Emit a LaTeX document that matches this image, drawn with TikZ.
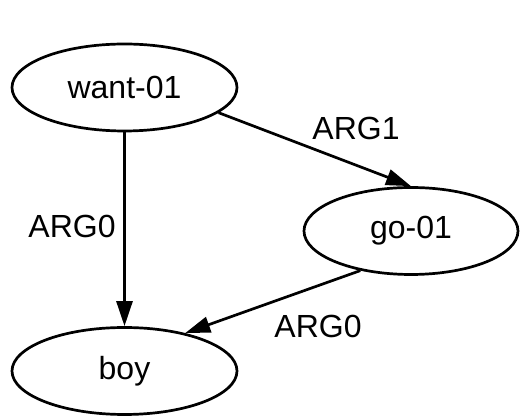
\documentclass[tikz,border=0pt]{standalone}
\usepackage{fontspec}
\setmainfont{Liberation Sans}
\usetikzlibrary{shapes.geometric,arrows.meta}
\tikzset{amr/.style={x=1pt,y=1pt,line width=2.7pt,font=\fontsize{32}{38}\selectfont},
  concept/.style={draw,ellipse,inner sep=0pt,minimum width=225pt,minimum height=87pt},
  role/.style={-{Triangle[length=25pt,width=16pt]},line width=2.7pt}}

\begin{document}
\begin{tikzpicture}[amr]
    \useasboundingbox (0,0) rectangle (520,417);
    \node[concept] (want) at (124.5,329.5) {want-01};
    \node[concept,minimum width=214pt] (go) at (411,186) {go-01};
    \node[concept] (boy)  at (124.5,46)    {boy};
    \draw[role] (want) -- (boy);
    \draw[role] (want.-15) -- (go.north);
    \draw[role] (go.218) -- (boy.32);
    % role labels
    \node (arg0a) at (72,191)  {ARG0};
    \node (arg1)  at (356,289) {ARG1};
    \node (arg0b) at (318,91)  {ARG0};
\end{tikzpicture}
\end{document}
